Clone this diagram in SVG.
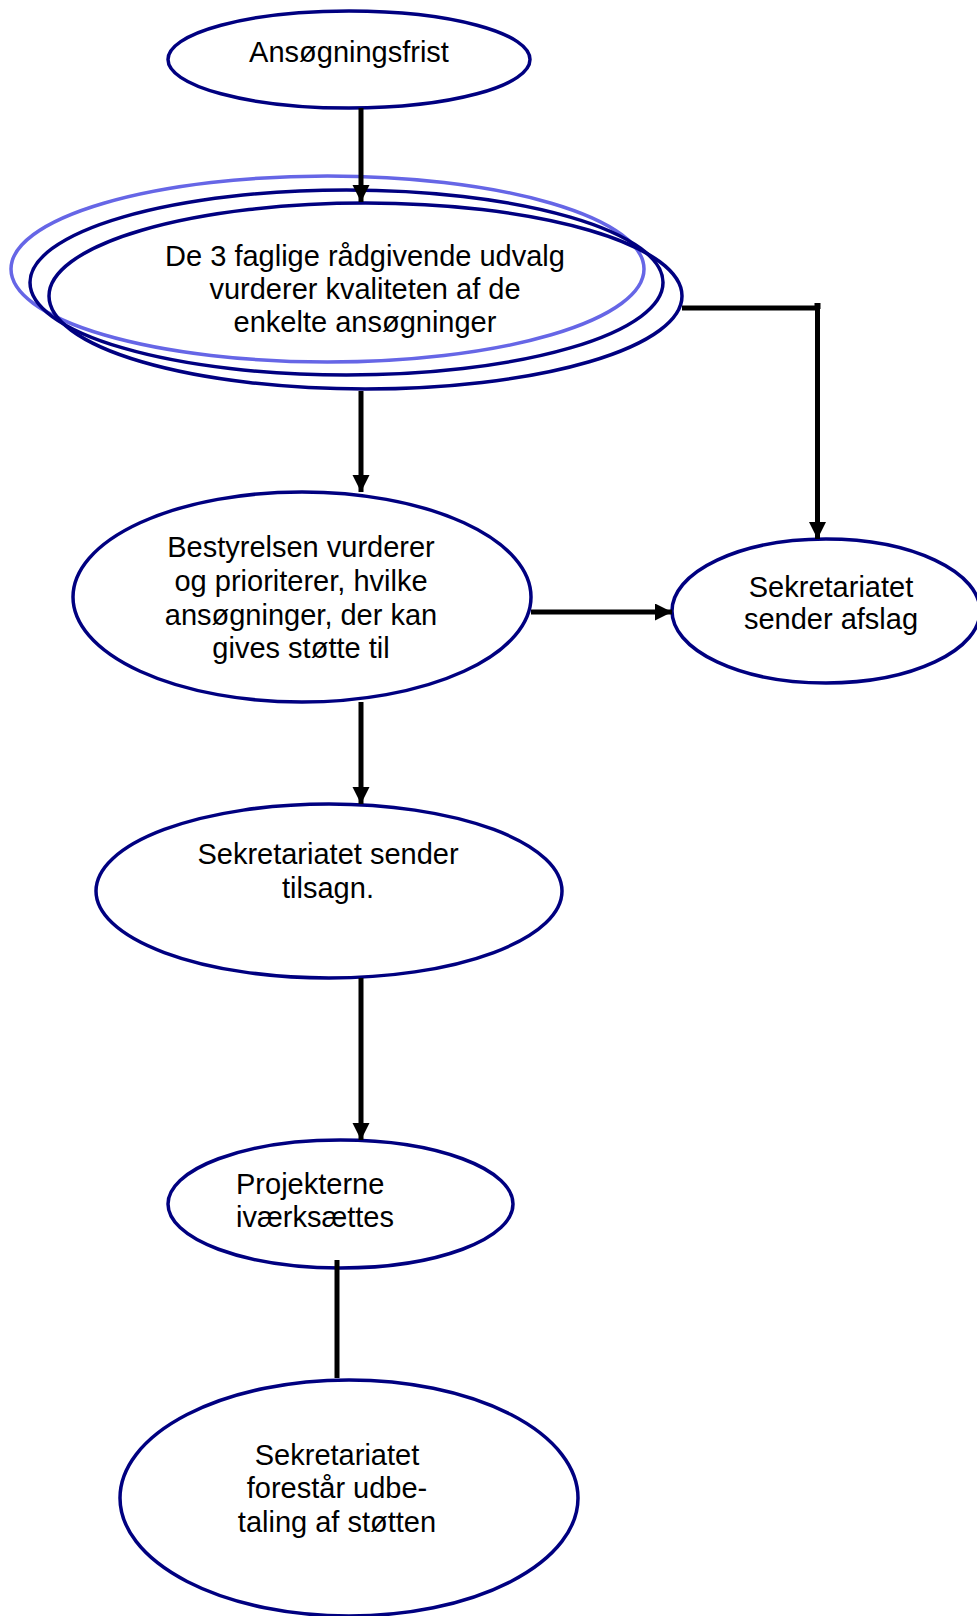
<svg xmlns="http://www.w3.org/2000/svg" width="977" height="1616" viewBox="0 0 977 1616">
<defs>
<style>
.node{fill:#fff;stroke:#000080;stroke-width:3.5}
.light{fill:none;stroke:#6666E6;stroke-width:3.5}
.t{font-family:"Liberation Sans",Arial,sans-serif;font-size:29px;fill:#000;text-anchor:middle}
.tl{font-family:"Liberation Sans",Arial,sans-serif;font-size:29px;fill:#000}
.c{fill:none;stroke:#000;stroke-width:5}
</style>
<marker id="ah" markerUnits="userSpaceOnUse" markerWidth="18" markerHeight="18" refX="17" refY="8.5" orient="auto">
<path d="M0,0 L17,8.5 L0,17 z" fill="#000"/>
</marker>
</defs>
<rect width="977" height="1616" fill="#fff"/>
<g id="n1">
<ellipse class="node" cx="349" cy="59.5" rx="181" ry="48.5"/>
<text class="t" x="349" y="62">Ansøgningsfrist</text>
</g>
<g id="n2">
<ellipse class="light" cx="327.5" cy="269" rx="316.5" ry="93"/>
<ellipse class="node" style="fill:none" cx="346.5" cy="282.5" rx="316.5" ry="92.5"/>
<ellipse class="node" style="fill:none" cx="365.5" cy="296" rx="316.5" ry="93"/>
<text class="t" x="365" y="266">De 3 faglige rådgivende udvalg</text>
<text class="t" x="365" y="299">vurderer kvaliteten af de</text>
<text class="t" x="365" y="332">enkelte ansøgninger</text>
</g>
<g id="n3">
<ellipse class="node" cx="302" cy="597" rx="229" ry="105"/>
<text class="t" x="301" y="557">Bestyrelsen vurderer</text>
<text class="t" x="301" y="591">og prioriterer, hvilke</text>
<text class="t" x="301" y="625">ansøgninger, der kan</text>
<text class="t" x="301" y="658">gives støtte til</text>
</g>
<g id="n4">
<ellipse class="node" cx="826" cy="611" rx="154" ry="72"/>
<text class="t" x="831" y="597">Sekretariatet</text>
<text class="t" x="831" y="629">sender afslag</text>
</g>
<g id="n5">
<ellipse class="node" cx="329" cy="891" rx="233" ry="87"/>
<text class="t" x="328" y="864">Sekretariatet sender</text>
<text class="t" x="328" y="898">tilsagn.</text>
</g>
<g id="n6">
<ellipse class="node" cx="340.5" cy="1204" rx="172.5" ry="64"/>
<text class="tl" x="236" y="1194">Projekterne</text>
<text class="tl" x="236" y="1227">iværksættes</text>
</g>
<g id="n7">
<ellipse class="node" cx="349" cy="1498" rx="229" ry="118"/>
<text class="t" x="337" y="1465">Sekretariatet</text>
<text class="t" x="337" y="1498">forestår udbe-</text>
<text class="t" x="337" y="1532">taling af støtten</text>
</g>
<g id="connectors">
<line class="c" x1="361" y1="108" x2="361" y2="202" marker-end="url(#ah)"/>
<line class="c" x1="361" y1="391" x2="361" y2="492" marker-end="url(#ah)"/>
<line class="c" x1="531" y1="612" x2="672" y2="612" marker-end="url(#ah)"/>
<polyline class="c" points="682,308 817.5,308 817.5,539" marker-end="url(#ah)"/>
<rect x="814.5" y="303" width="6" height="6" fill="#000"/>
<line class="c" x1="361" y1="702" x2="361" y2="804" marker-end="url(#ah)"/>
<line class="c" x1="361" y1="978" x2="361" y2="1140" marker-end="url(#ah)"/>
<line class="c" x1="337" y1="1260" x2="337" y2="1378"/>
</g>
</svg>
